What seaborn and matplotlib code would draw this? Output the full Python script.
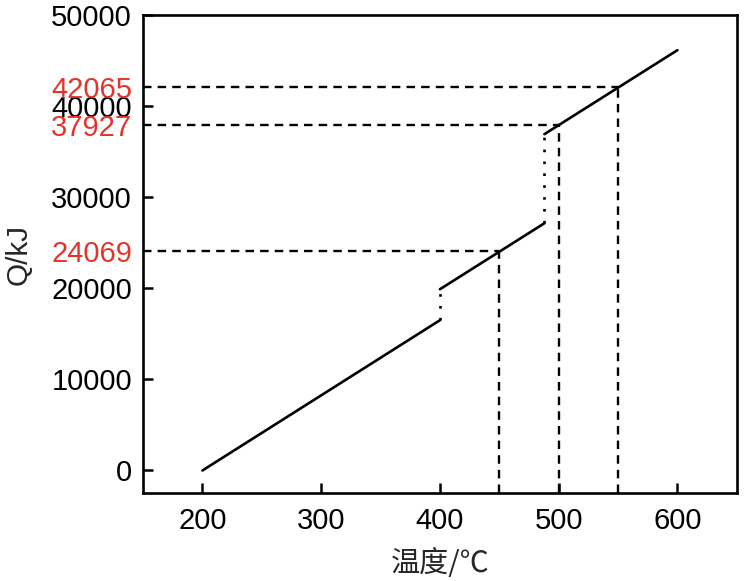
import matplotlib
matplotlib.use("Agg")
import matplotlib.pyplot as plt
import seaborn as sns
import pandas as pd

# heat curve, three linear segments (temperature in C, Q in kJ)
seg_temp = [[200, 400], [400, 488], [488, 600]]
seg_q = [[0, 16500], [19900, 27150], [36930, 46150]]
# phase jumps drawn dotted
jump_temp = [400, 488]
jump_q = [[16500, 19900], [27150, 36930]]
# marked read-offs
mark_temp = [450, 500, 550]
mark_q = [24069, 37927, 42065]
yticks_black = [0, 10000, 20000, 30000, 40000, 50000]
xticks = [200, 300, 400, 500, 600]

red = "#e3342c"
sns.set_theme(style="white")
plt.rcParams["font.family"] = ["Liberation Sans", "DejaVu Sans"]

fig = plt.figure(figsize=(7.45, 5.81), dpi=100)
ax = fig.add_axes([0.192, 0.151, 0.797, 0.823])

frames = []
for i, (t, q) in enumerate(zip(seg_temp, seg_q)):
    frames.append(pd.DataFrame({"temp": t, "q": q, "seg": i}))
df = pd.concat(frames, ignore_index=True)
sns.lineplot(data=df, x="temp", y="q", units="seg", estimator=None,
             color="black", lw=1.9, ax=ax)

for t, q in zip(jump_temp, jump_q):
    ax.plot([t, t], q, color="black", lw=1.9, ls=(0, (1.0, 3.5)))

ax.set_xlim(150, 650)
ax.set_ylim(-2500, 50000)

for t, q in zip(mark_temp, mark_q):
    ax.plot([150, t], [q, q], color="black", lw=1.7, ls=(0, (3.6, 2.6)))
    ax.plot([t, t], [-2500, q], color="black", lw=1.7, ls=(0, (3.6, 2.6)))

ticks = yticks_black + mark_q
ax.set_yticks(ticks)
ax.set_yticklabels([str(v) for v in ticks])
ax.set_xticks(xticks)
ax.tick_params(direction="in", length=7, width=1.8, labelsize=21, pad=8,
               left=True, bottom=True, colors="black")
ax.tick_params(axis="x", pad=10)
for tick, v in zip(ax.yaxis.get_major_ticks(), ticks):
    if v in mark_q:
        tick.tick1line.set_visible(False)
        tick.label1.set_color(red)

for s in ax.spines.values():
    s.set_color("black")
    s.set_linewidth(1.9)

ax.set_ylabel("Q/kJ", fontsize=21.5, labelpad=13)
ax.set_xlabel("温度/℃", fontsize=21, labelpad=10,
              family=["Noto Sans CJK SC", "DejaVu Sans"])

fig.savefig("out.png", dpi=100)
